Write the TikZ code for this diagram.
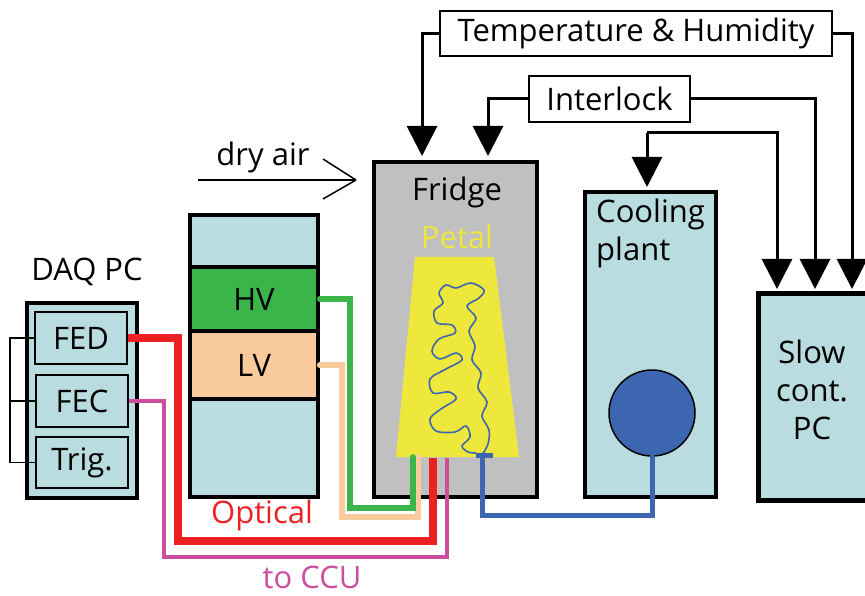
\documentclass[tikz,border=0pt]{standalone}
\usepackage{fontspec}
\setmainfont{Open Sans}
\usetikzlibrary{arrows.meta,calc}
\definecolor{lblue}{HTML}{B8DCE0}
\definecolor{hvgreen}{HTML}{3BB54A}
\definecolor{lvorange}{HTML}{F9CB9C}
\definecolor{fgray}{HTML}{C0C0C0}
\definecolor{pyellow}{HTML}{EEE83C}
\definecolor{cblue}{HTML}{3D66B0}
\definecolor{ored}{HTML}{ED2124}
\definecolor{ccu}{HTML}{CC4E9E}
\begin{document}
\begin{tikzpicture}[x=1pt,y=-1pt,
  txt/.style={font=\fontsize{31}{38}\selectfont, inner sep=0pt},
  box/.style={draw=black, line width=3.5pt, fill=lblue, inner sep=0pt},
  sub/.style={draw=black, line width=2pt, fill=lblue, inner sep=0pt, font=\fontsize{31}{38}\selectfont},
  lab/.style={draw=black, line width=1.5pt, fill=white, inner sep=0pt, font=\fontsize{31}{38}\selectfont},
  sig/.style={line width=3pt, -{Triangle[width=30pt,length=30pt]}},
]
\useasboundingbox (0,0) rectangle (865,596);

% ---------- DAQ PC ----------
\node[txt] (daqlab) at (87,272) {DAQ PC};
\node[box, minimum width=110pt, minimum height=195pt] (daq) at (82,400.5) {};
\node[sub, minimum width=92pt, minimum height=52pt] (fed) at (81,338) {FED};
\node[sub, minimum width=92pt, minimum height=52pt] (fec) at (82,401) {FEC};
\node[sub, minimum width=92pt, minimum height=51pt] (trig) at (82,462.5) {Trig.};
\draw[line width=1.5pt] (fed.west) -- ++(-24,0) |- (trig.west);
\draw[line width=1.5pt] (fec.west) -- ++(-24,0);

% ---------- Power supply rack ----------
\node[box, minimum width=128pt, minimum height=52pt] (racktop) at (254,241) {};
\node[box, fill=hvgreen, minimum width=128pt, minimum height=64pt, font=\fontsize{31}{38}\selectfont] (hv) at (254,299) {HV};
\node[box, fill=lvorange, minimum width=128pt, minimum height=68pt, font=\fontsize{31}{38}\selectfont] (lv) at (254,365) {LV};
\node[box, minimum width=128pt, minimum height=98pt] (rackbot) at (254,448) {};

% ---------- dry air ----------
\node[txt] (airlab) at (263,157) {dry air};
\coordinate (airstart) at (198,180);
\coordinate (airend) at (356,180);
\draw[line width=1.5pt] (airstart) -- (airend);
\draw[line width=1.5pt] (airend) -- ++(-33,-21);
\draw[line width=1.5pt] (airend) -- ++(-33,19);

% ---------- Fridge ----------
\node[box, fill=fgray, minimum width=163pt, minimum height=335pt] (fridge) at (455.5,329.5) {};
\node[txt] (fridgelab) at (457,192) {Fridge};
\node[txt, text=pyellow] (petallab) at (457,237) {Petal};
\fill[pyellow] (415,257) -- (494,257) -- (519,457) -- (396,457) -- cycle;
\coordinate (pipeend) at (482,455);
\draw[cblue, line width=1.6pt] plot[smooth, tension=0.55] coordinates {
 (482,455) (488,444) (489,430) (482,416) (487,402) (478,388) (481,373)
 (472,360) (475,346) (469,331) (476,318) (467,306) (479,298) (484,290)
 (471,283) (456,288) (446,285) (439,293) (443,303) (434,311) (437,323)
 (452,325) (455,333) (439,339) (432,351) (440,359) (456,353) (462,360)
 (446,369) (430,379) (433,393) (449,392) (456,399) (441,409) (430,419)
 (436,431) (455,432) (466,426) (470,437) (462,446) (468,452) (476,453)};
\draw[cblue, line width=5pt] (476,455) -- (493,455);

% ---------- Cooling plant ----------
\node[box, minimum width=131pt, minimum height=305pt] (cool) at (650.5,344.5) {};
\node[txt, align=left, anchor=north west] (coollab) at (596,199) {Cooling\\plant};
\node[circle, draw=black, line width=1.5pt, fill=cblue, minimum size=86pt, inner sep=0pt] (pump) at (652,413) {};

% ---------- Slow control PC ----------
\node[box, line width=5pt, minimum width=122pt, minimum height=207pt] (spc) at (819,396.5) {};
\node[txt, align=center] (spclab) at (812,390) {Slow\\cont.\\PC};

% ---------- Labels on top ----------
\node[lab, minimum width=392pt, minimum height=45pt] (temp) at (636,33.5) {Temperature \& Humidity};
\node[lab, minimum width=161pt, minimum height=46pt] (inter) at (609.5,99) {Interlock};

\coordinate (fa1) at (422,156);
\coordinate (fa2) at (488,156);
\coordinate (sa1) at (777,289);
\coordinate (sa2) at (815,289);
\coordinate (sa3) at (852,289);
\coordinate (ctop) at (647,133);
\coordinate (ca) at (647,187);
\draw[sig] (temp.west) -| (fa1);
\draw[sig] (temp.east) -| (sa3);
\draw[sig] (inter.west) -| (fa2);
\draw[sig] (inter.east) -| (sa2);
\draw[sig] (ctop) -- (ca);
\draw[sig] (ctop) -| (sa1);

% ---------- Cables ----------
\coordinate (rd1) at (178,541);
\coordinate (rd2) at (433,458);
\coordinate (mg1) at (164,557);
\coordinate (mg2) at (447,458);
\coordinate (gr1) at (350,508);
\coordinate (gr2) at (413,457);
\coordinate (or1) at (342,517);
\coordinate (or2) at (418,457);
\coordinate (bl1) at (482,515);
\draw[lvorange, line width=6pt, line cap=round] (lv.east) -| (or1) -| (or2);
\draw[hvgreen, line width=5.5pt, line cap=round] (hv.east) -| (gr1) -| (gr2);
\draw[ccu, line width=4pt] (fec.east) -| (mg1) -| (mg2);
\draw[ored, line width=8.5pt] (fed.east) -| (rd1) -| (rd2);
\draw[cblue, line width=5pt, line cap=round] (pipeend) -- (bl1) -| (pump.south);

\node[txt, text=ored] (optlab) at (262,515) {Optical};
\node[txt, text=ccu] (ccllab) at (312,577) {to CCU};
\end{tikzpicture}
\end{document}
